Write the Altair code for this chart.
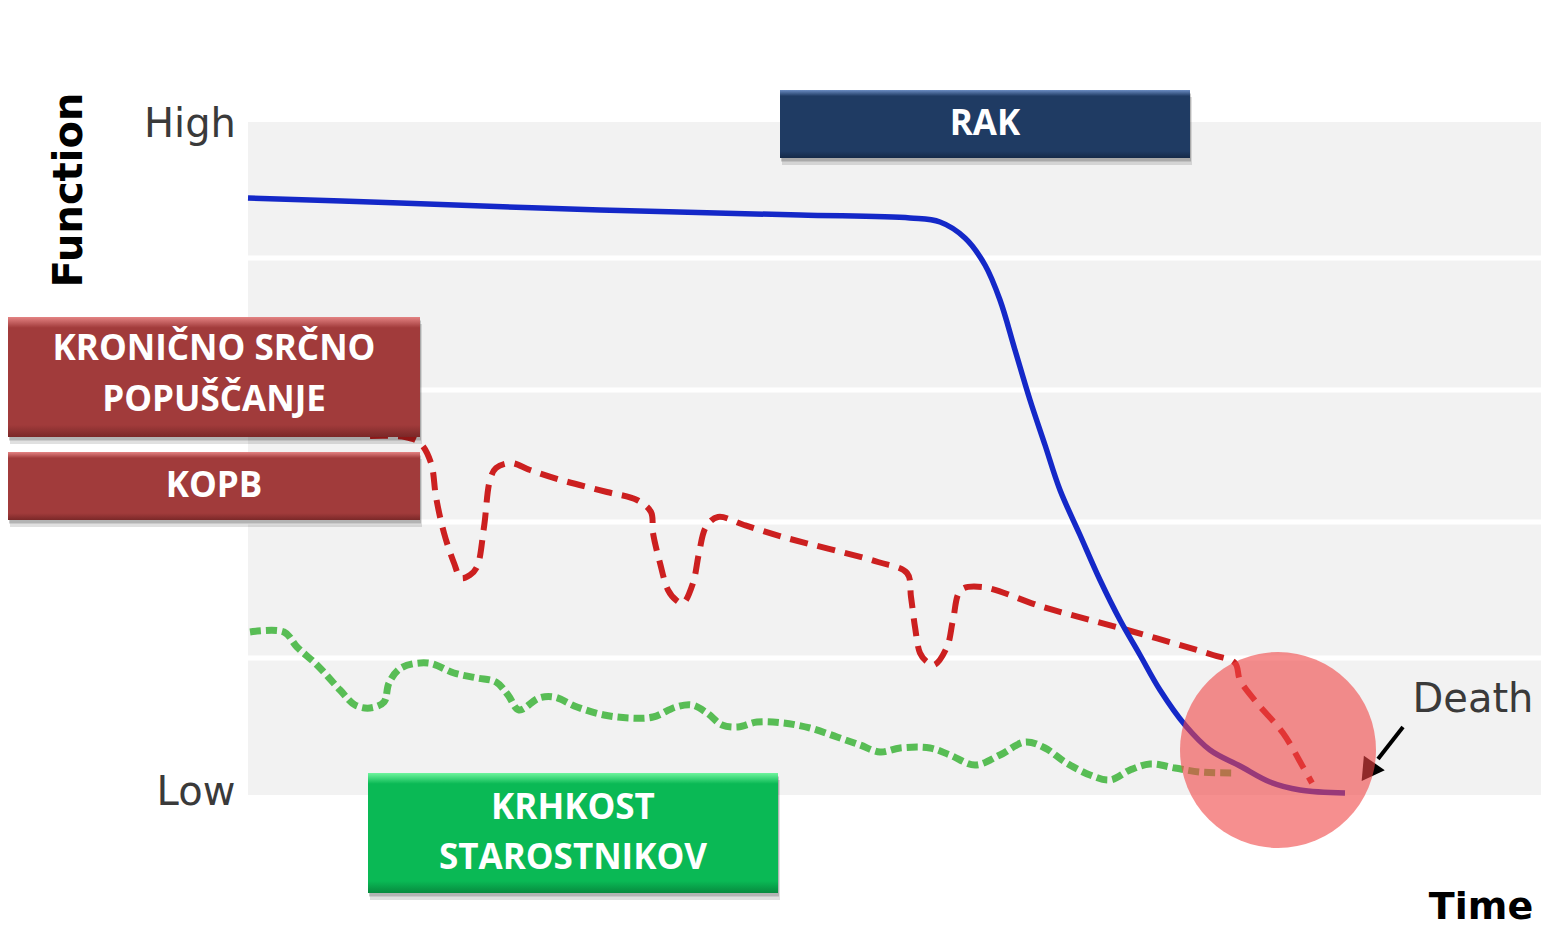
import altair as alt
import pandas as pd

# ---- curves (Time, Function) in arbitrary diagram units ----
rak_t = [0, 15.2, 35.2, 55.2, 66.2, 69.2, 71.7, 73.7, 75.2, 76.7, 78.2, 79.7, 81.2, 83.2, 85.2,
         87.2, 89.2, 91.2, 93.7, 96.2, 99.2, 102.2, 105.2, 109.7]
rak_f = [59.7, 59.2, 58.5, 58.0, 57.7, 57.3, 55.7, 53.0, 49.5, 44.5, 39.5, 35.0, 30.5, 26.0, 21.5,
         17.5, 14.0, 10.5, 7.0, 4.5, 2.9, 1.3, 0.5, 0.2]

kopb_t = [12.2, 15.7, 17.2, 18.3, 18.8, 19.6, 20.6, 21.3, 22.2, 22.9, 23.6, 24.2, 24.8, 26.3, 28.2,
          31.3, 35.9, 38.9, 40.3, 40.5, 41.2, 42.0, 42.8, 43.5, 44.5, 45.1, 45.8, 47.0, 49.6, 53.5,
          63.0, 65.9, 66.3, 66.7, 67.2, 67.8, 68.6, 69.9, 70.5, 71.3, 73.4, 79.5, 87.2, 96.5, 98.7,
          99.2, 100.9, 103.5, 105.5, 106.4]
kopb_f = [35.9, 35.8, 35.2, 33.2, 29.8, 26.2, 23.2, 21.7, 22.0, 22.8, 26.8, 31.5, 32.7, 33.2, 32.5,
          31.5, 30.3, 29.5, 28.3, 26.2, 23.2, 20.5, 19.5, 19.2, 21.2, 24.2, 26.8, 27.8, 27.0, 25.8,
          23.3, 22.2, 19.8, 16.8, 14.2, 13.4, 13.0, 14.8, 17.5, 20.5, 20.8, 18.8, 16.7, 14.0, 13.2,
          11.5, 9.2, 6.2, 2.8, 1.2]

frail_t = [0.2, 3.6, 4.9, 6.9, 9.2, 10.7, 12.2, 13.6, 14.1, 15.3, 18.0, 20.6, 22.9, 24.8, 26.0,
           27.1, 29.1, 30.6, 32.9, 35.6, 38.2, 40.5, 42.8, 44.4, 45.9, 47.4, 49.0, 50.9, 53.5, 56.2,
           58.9, 61.2, 63.2, 65.2, 68.2, 70.2, 72.7, 75.2, 77.7, 79.7, 81.7, 84.2, 86.2, 88.2, 90.2,
           92.7, 95.2, 98.7]
frail_f = [16.3, 16.3, 14.8, 13.0, 10.5, 9.0, 8.7, 9.3, 11.2, 12.7, 13.2, 12.2, 11.7, 11.3, 10.0,
           8.5, 9.7, 9.8, 8.8, 8.0, 7.7, 7.8, 8.8, 9.0, 8.2, 7.0, 6.8, 7.3, 7.2, 6.7,
           5.8, 5.0, 4.3, 4.7, 4.7, 4.0, 3.0, 4.0, 5.3, 4.7, 3.3, 2.0, 1.5, 2.5, 3.1,
           2.7, 2.3, 2.2]

# ---- background bands ----
plot_t = [0, 129.3]
plot_f = [0, 67.3]
grid_f = [13.7, 27.3, 40.5, 53.7]

# ---- label boxes ----
box_names = ["RAK", "KRONIČNO SRČNO POPUŠČANJE", "KOPB", "KRHKOST STAROSTNIKOV"]
box_t1 = [53.2, -24.0, -24.0, 12.0]
box_t2 = [94.2, 17.2, 17.2, 53.0]
box_f1 = [63.7, 35.8, 27.5, -9.8]
box_f2 = [70.5, 47.8, 34.3, 2.2]
box_group = ["navy", "red", "red", "green"]

box_text = ["RAK", "KRONIČNO SRČNO", "POPUŠČANJE", "KOPB", "KRHKOST", "STAROSTNIKOV"]
box_text_t = [73.7, -3.4, -3.4, -3.4, 32.5, 32.5]
box_text_f = [67.1, 44.6, 39.5, 30.9, -1.3, -6.3]

# ---- axis-like annotations ----
ann_text = ["High", "Low", "Death"]
ann_t = [-5.8, -5.2, 122.5]
ann_f = [67.0, 0.2, 9.5]

death_t = [103.0]
death_f = [4.5]
arrow_t = [115.5]
arrow_t2 = [113.0]
arrow_f = [6.8]
arrow_f2 = [3.6]
head_t = [112.0]
head_f = [2.3]

X_DOM = [-24, 129.3]
Y_DOM = [-13.5, 78.7]
W, H = 1533, 922

xs = alt.Scale(domain=X_DOM, nice=False, zero=False)
ys = alt.Scale(domain=Y_DOM, nice=False, zero=False)


def X(f="t"):
    return alt.X(f"{f}:Q", scale=xs, axis=None)


def Y(f="f"):
    return alt.Y(f"{f}:Q", scale=ys, axis=None)


bg_df = pd.DataFrame({"t": [plot_t[0]], "t2": [plot_t[1]], "f": [plot_f[0]], "f2": [plot_f[1]]})
background = alt.Chart(bg_df).mark_rect(color="#f2f2f2").encode(
    x=X("t"), x2="t2", y=Y("f"), y2="f2")

grid_df = pd.DataFrame({"f": grid_f, "t": plot_t[0], "t2": plot_t[1]})
grid = alt.Chart(grid_df).mark_rule(color="white", strokeWidth=5).encode(
    x=X("t"), x2="t2", y=Y("f"))

rak = alt.Chart(pd.DataFrame({"t": rak_t, "f": rak_f})).mark_line(
    color="#1428c8", strokeWidth=5.5, interpolate="catmull-rom").encode(x=X(), y=Y())
kopb = alt.Chart(pd.DataFrame({"t": kopb_t, "f": kopb_f})).mark_line(
    color="#cc2020", strokeWidth=6, strokeDash=[18, 10], interpolate="catmull-rom").encode(x=X(), y=Y())
frail = alt.Chart(pd.DataFrame({"t": frail_t, "f": frail_f})).mark_line(
    color="#58bd55", strokeWidth=7, strokeDash=[11, 5], interpolate="catmull-rom").encode(x=X(), y=Y())

arrow_df = pd.DataFrame({"t": arrow_t, "t2": arrow_t2, "f": arrow_f, "f2": arrow_f2})
arrow = alt.Chart(arrow_df).mark_rule(color="black", strokeWidth=4).encode(
    x=X("t"), x2="t2", y=Y("f"), y2="f2")
head = alt.Chart(pd.DataFrame({"t": head_t, "f": head_f})).mark_point(
    shape="triangle-up", filled=True, size=650, angle=215, color="black", opacity=1).encode(x=X(), y=Y())

death = alt.Chart(pd.DataFrame({"t": death_t, "f": death_f})).mark_point(
    shape="circle", filled=True, size=38416, color="#f04444", opacity=0.6, strokeWidth=0).encode(x=X(), y=Y())

box_df = pd.DataFrame({"name": box_names, "t": box_t1, "t2": box_t2, "f": box_f1, "f2": box_f2,
                       "grp": box_group})

shadow1 = alt.Chart(box_df).transform_calculate(
    st="datum.t + 0.2", st2="datum.t2 + 0.2", sf="datum.f - 0.7", sf2="datum.f2 - 0.7"
).mark_rect(color="#000000", opacity=0.12).encode(x=X("st"), x2="st2", y=Y("sf"), y2="sf2")
shadow2 = alt.Chart(box_df).transform_calculate(
    st="datum.t + 0.1", st2="datum.t2 + 0.1", sf="datum.f - 0.35", sf2="datum.f2 - 0.35"
).mark_rect(color="#000000", opacity=0.2).encode(x=X("st"), x2="st2", y=Y("sf"), y2="sf2")

palettes = {
    "navy": ["#6b8cc2", "#1f3b63", "#1f3b63", "#152a48"],
    "red": ["#e48383", "#a13b3b", "#a13b3b", "#7a2828"],
    "green": ["#6ff59d", "#0ab955", "#0ab955", "#078a3e"],
}


def box_layer(grp):
    c = palettes[grp]
    grad = alt.LinearGradient(
        gradient="linear", x1=0, x2=0, y1=0, y2=1,
        stops=[alt.GradientStop(color=c[0], offset=0),
               alt.GradientStop(color=c[1], offset=0.09),
               alt.GradientStop(color=c[2], offset=0.9),
               alt.GradientStop(color=c[3], offset=1)])
    return alt.Chart(box_df).transform_filter(f"datum.grp == '{grp}'").mark_rect(
        color=grad).encode(x=X("t"), x2="t2", y=Y("f"), y2="f2")


boxes = [box_layer(g) for g in ["navy", "red", "green"]]

btext = alt.Chart(pd.DataFrame({"label": box_text, "t": box_text_t, "f": box_text_f})).mark_text(
    font="Open Sans", fontWeight="bold", fontSize=35, color="white", align="center", baseline="middle"
).encode(x=X(), y=Y(), text="label:N")

ann = alt.Chart(pd.DataFrame({"label": ann_text, "t": ann_t, "f": ann_f})).mark_text(
    font="DejaVu Sans", fontSize=40, color="#3a3a3a", align="center", baseline="middle"
).encode(x=X(), y=Y(), text="label:N")

func_lbl = alt.Chart(pd.DataFrame({"label": ["Function"], "t": [-17.8], "f": [60.5]})).mark_text(
    font="DejaVu Sans", fontWeight="bold", fontSize=40,
    color="black", angle=270, align="center", baseline="middle"
).encode(x=X(), y=Y(), text="label:N")

time_lbl = alt.Chart(pd.DataFrame({"label": ["Time"], "t": [123.3], "f": [-11.3]})).mark_text(
    font="DejaVu Sans", fontWeight="bold", fontSize=38, color="black", align="center", baseline="middle"
).encode(x=X(), y=Y(), text="label:N")

chart = alt.layer(
    background, grid, frail, kopb, rak, arrow, head, death,
    shadow1, shadow2, *boxes, btext, ann, func_lbl, time_lbl
).properties(
    width=W, height=H, padding=0, autosize="none", background="white"
).configure_view(stroke=None)

chart.save("out.html", embed_options={"renderer": "svg", "actions": False})
